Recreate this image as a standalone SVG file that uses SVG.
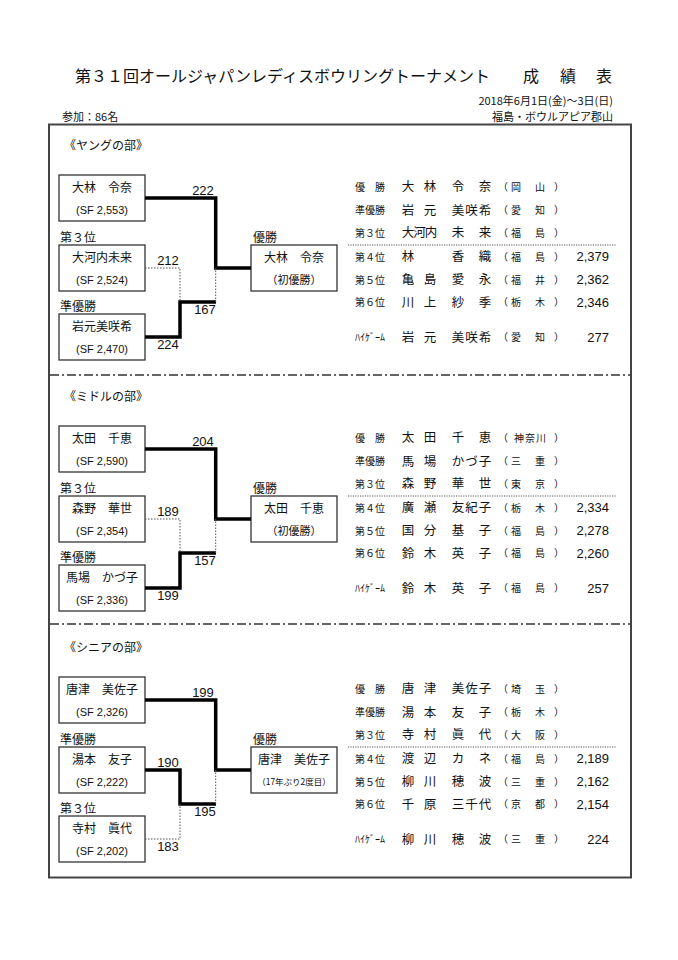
<svg xmlns="http://www.w3.org/2000/svg" width="678" height="960" viewBox="0 0 678 960">
<style>
.jp{font-family:"Noto Sans CJK JP","Noto Sans CJK SC",sans-serif;fill:#111}
.num{font-family:"Liberation Sans","DejaVu Sans",sans-serif;fill:#111}
.t{font-size:16px}
.s11{font-size:11px}
.s12{font-size:12px}
.s10{font-size:10px}
.s9{font-size:8.5px}
.nm{font-size:12.5px}
.box{fill:#fff;stroke:#333;stroke-width:1.3}
.frame{fill:none;stroke:#444;stroke-width:2}
.sep{stroke:#333;stroke-width:1.3;stroke-dasharray:9 3 2 3}
.dotl{stroke:#444;stroke-width:0.9;stroke-dasharray:1.2 1.2}
.bold{fill:none;stroke:#000;stroke-width:3.5}
.dot{fill:none;stroke:#555;stroke-width:1;stroke-dasharray:1.5 1.5}
.sc{font-size:13px}
.mid{text-anchor:middle}
.end{text-anchor:end}
</style>
<rect width="678" height="960" fill="#fff"/>
<g id="header">
<text class="jp t" x="75" y="82">第３１回オールジャパンレディスボウリングトーナメント</text>
<text class="jp t mid" x="531 568 604" y="82">成績表</text>
<text class="jp s11 end" x="613" y="105">2018年6月1日(金)～3日(日)</text>
<text class="jp s11" x="62" y="121">参加：86名</text>
<text class="jp s11 end" x="613" y="121">福島・ボウルアピア郡山</text>
</g>
<rect class="frame" x="49" y="124.5" width="582" height="753"/>
<line class="sep" x1="50" y1="375" x2="630" y2="375"/>
<line class="sep" x1="50" y1="624" x2="630" y2="624"/>

<!-- Section 1 -->
<g id="young">
<text class="jp s12" x="64" y="150">《ヤングの部》</text>
<g id="y-box1"><rect class="box" x="59" y="175" width="86" height="46"/><text class="jp s12 mid" x="102" y="191.5">大林　令奈</text><text class="num s11 mid" x="102" y="214">(SF 2,553)</text></g>
<g id="y-box2"><text class="jp s12" x="60" y="242">第３位</text><rect class="box" x="59" y="245" width="86" height="46"/><text class="jp s12 mid" x="102" y="261.5">大河内未来</text><text class="num s11 mid" x="102" y="284">(SF 2,524)</text></g>
<g id="y-box3"><text class="jp s12" x="60" y="311">準優勝</text><rect class="box" x="59" y="314" width="86" height="46"/><text class="jp s12 mid" x="102" y="330.5">岩元美咲希</text><text class="num s11 mid" x="102" y="353">(SF 2,470)</text></g>
<g id="y-win"><text class="jp s12" x="253" y="242">優勝</text><rect class="box" x="251" y="245" width="86" height="46"/><text class="jp s12 mid" x="294" y="261.5">大林　令奈</text><text class="jp s11 mid" x="294" y="284">（初優勝）</text></g>
<g id="y-conn">
<path class="bold" d="M145,198 H215.7 V268 H251"/>
<path class="dot" d="M145,268 H180 V302"/>
<path class="bold" d="M145,337 H180 V302 H216"/>
<path class="dot" d="M215.7,302 V268"/>
<text class="num sc mid" x="203" y="195">222</text>
<text class="num sc mid" x="168" y="265">212</text>
<text class="num sc mid" x="205" y="314">167</text>
<text class="num sc mid" x="168" y="349">224</text>
</g>
<g id="y-results">
<text class="jp s10" x="355" y="190.5">優　勝</text>
<text class="jp nm mid" x="408 430 458 485" y="191">大林令奈</text>
<text class="jp s10 mid" x="503 516 540 559" y="190.5">（岡山）</text>
<text class="jp s10" x="355" y="214">準優勝</text>
<text class="jp nm mid" x="408 430 458 471.5 485" y="214.5">岩元美咲希</text>
<text class="jp s10 mid" x="503 516 540 559" y="214">（愛知）</text>
<text class="jp s10" x="355" y="236.5">第３位</text>
<text class="jp nm mid" x="408 419.5 431 458 485" y="237">大河内未来</text>
<text class="jp s10 mid" x="503 516 540 559" y="236.5">（福島）</text>
<line class="dotl" x1="348" y1="245" x2="616" y2="245"/>
<text class="jp s10" x="355" y="260.5">第４位</text>
<text class="jp nm mid" x="408 458 485" y="261">林香織</text>
<text class="jp s10 mid" x="503 516 540 559" y="260.5">（福島）</text>
<text class="num sc end" x="609" y="261">2,379</text>
<text class="jp s10" x="355" y="283.5">第５位</text>
<text class="jp nm mid" x="408 430 458 485" y="284">亀島愛永</text>
<text class="jp s10 mid" x="503 516 540 559" y="283.5">（福井）</text>
<text class="num sc end" x="609" y="284">2,362</text>
<text class="jp s10" x="355" y="306">第６位</text>
<text class="jp nm mid" x="408 430 458 485" y="306.5">川上紗季</text>
<text class="jp s10 mid" x="503 516 540 559" y="306">（栃木）</text>
<text class="num sc end" x="609" y="306.5">2,346</text>
<text class="jp s10" x="355" y="341">ﾊｲｹﾞｰﾑ</text>
<text class="jp nm mid" x="408 430 458 471.5 485" y="341.5">岩元美咲希</text>
<text class="jp s10 mid" x="503 516 540 559" y="341">（愛知）</text>
<text class="num sc end" x="609" y="341.5">277</text>
</g>
</g>

<!-- Section 2 -->
<g id="middle" transform="translate(0,251)">
<text class="jp s12" x="64" y="150">《ミドルの部》</text>
<g id="m-box1"><rect class="box" x="59" y="175" width="86" height="46"/><text class="jp s12 mid" x="102" y="191.5">太田　千恵</text><text class="num s11 mid" x="102" y="214">(SF 2,590)</text></g>
<g id="m-box2"><text class="jp s12" x="60" y="242">第３位</text><rect class="box" x="59" y="245" width="86" height="46"/><text class="jp s12 mid" x="102" y="261.5">森野　華世</text><text class="num s11 mid" x="102" y="284">(SF 2,354)</text></g>
<g id="m-box3"><text class="jp s12" x="60" y="311">準優勝</text><rect class="box" x="59" y="314" width="86" height="46"/><text class="jp s12 mid" x="102" y="330.5">馬場　かづ子</text><text class="num s11 mid" x="102" y="353">(SF 2,336)</text></g>
<g id="m-win"><text class="jp s12" x="253" y="242">優勝</text><rect class="box" x="251" y="245" width="86" height="46"/><text class="jp s12 mid" x="294" y="261.5">太田　千恵</text><text class="jp s11 mid" x="294" y="284">（初優勝）</text></g>
<g id="m-conn">
<path class="bold" d="M145,198 H215.7 V268 H251"/>
<path class="dot" d="M145,268 H180 V302"/>
<path class="bold" d="M145,337 H180 V302 H216"/>
<path class="dot" d="M215.7,302 V268"/>
<text class="num sc mid" x="203" y="195">204</text>
<text class="num sc mid" x="168" y="265">189</text>
<text class="num sc mid" x="205" y="314">157</text>
<text class="num sc mid" x="168" y="349">199</text>
</g>
<g id="m-results">
<text class="jp s10" x="355" y="190.5">優　勝</text>
<text class="jp nm mid" x="408 430 458 485" y="191">太田千恵</text>
<text class="jp s10 mid" x="503 519 530 541 559" y="190.5">（神奈川）</text>
<text class="jp s10" x="355" y="214">準優勝</text>
<text class="jp nm mid" x="408 430 458 471.5 485" y="214.5">馬場かづ子</text>
<text class="jp s10 mid" x="503 516 540 559" y="214">（三重）</text>
<text class="jp s10" x="355" y="236.5">第３位</text>
<text class="jp nm mid" x="408 430 458 485" y="237">森野華世</text>
<text class="jp s10 mid" x="503 516 540 559" y="236.5">（東京）</text>
<line class="dotl" x1="348" y1="245" x2="616" y2="245"/>
<text class="jp s10" x="355" y="260.5">第４位</text>
<text class="jp nm mid" x="408 430 458 471.5 485" y="261">廣瀬友紀子</text>
<text class="jp s10 mid" x="503 516 540 559" y="260.5">（栃木）</text>
<text class="num sc end" x="609" y="261">2,334</text>
<text class="jp s10" x="355" y="283.5">第５位</text>
<text class="jp nm mid" x="408 430 458 485" y="284">国分基子</text>
<text class="jp s10 mid" x="503 516 540 559" y="283.5">（福島）</text>
<text class="num sc end" x="609" y="284">2,278</text>
<text class="jp s10" x="355" y="306">第６位</text>
<text class="jp nm mid" x="408 430 458 485" y="306.5">鈴木英子</text>
<text class="jp s10 mid" x="503 516 540 559" y="306">（福島）</text>
<text class="num sc end" x="609" y="306.5">2,260</text>
<text class="jp s10" x="355" y="341">ﾊｲｹﾞｰﾑ</text>
<text class="jp nm mid" x="408 430 458 485" y="341.5">鈴木英子</text>
<text class="jp s10 mid" x="503 516 540 559" y="341">（福島）</text>
<text class="num sc end" x="609" y="341.5">257</text>
</g>
</g>

<!-- Section 3 -->
<g id="senior" transform="translate(0,502)">
<text class="jp s12" x="64" y="150">《シニアの部》</text>
<g id="s-box1"><rect class="box" x="59" y="175" width="86" height="46"/><text class="jp s12 mid" x="102" y="191.5">唐津　美佐子</text><text class="num s11 mid" x="102" y="214">(SF 2,326)</text></g>
<g id="s-box2"><text class="jp s12" x="60" y="242">準優勝</text><rect class="box" x="59" y="245" width="86" height="46"/><text class="jp s12 mid" x="102" y="261.5">湯本　友子</text><text class="num s11 mid" x="102" y="284">(SF 2,222)</text></g>
<g id="s-box3"><text class="jp s12" x="60" y="311">第３位</text><rect class="box" x="59" y="314" width="86" height="46"/><text class="jp s12 mid" x="102" y="330.5">寺村　眞代</text><text class="num s11 mid" x="102" y="353">(SF 2,202)</text></g>
<g id="s-win"><text class="jp s12" x="253" y="242">優勝</text><rect class="box" x="251" y="245" width="86" height="46"/><text class="jp s12 mid" x="294" y="261.5">唐津　美佐子</text><text class="jp s9 mid" x="294" y="283">（17年ぶり2度目）</text></g>
<g id="s-conn">
<path class="bold" d="M145,198 H215.7 V268 H251"/>
<path class="bold" d="M145,268 H180 V302 H216"/>
<path class="dot" d="M145,337 H180 V302"/>
<path class="dot" d="M215.7,302 V268"/>
<text class="num sc mid" x="203" y="195">199</text>
<text class="num sc mid" x="168" y="265">190</text>
<text class="num sc mid" x="205" y="314">195</text>
<text class="num sc mid" x="168" y="349">183</text>
</g>
<g id="s-results">
<text class="jp s10" x="355" y="190.5">優　勝</text>
<text class="jp nm mid" x="408 430 458 471.5 485" y="191">唐津美佐子</text>
<text class="jp s10 mid" x="503 516 540 559" y="190.5">（埼玉）</text>
<text class="jp s10" x="355" y="214">準優勝</text>
<text class="jp nm mid" x="408 430 458 485" y="214.5">湯本友子</text>
<text class="jp s10 mid" x="503 516 540 559" y="214">（栃木）</text>
<text class="jp s10" x="355" y="236.5">第３位</text>
<text class="jp nm mid" x="408 430 458 485" y="237">寺村眞代</text>
<text class="jp s10 mid" x="503 516 540 559" y="236.5">（大阪）</text>
<line class="dotl" x1="348" y1="245" x2="616" y2="245"/>
<text class="jp s10" x="355" y="260.5">第４位</text>
<text class="jp nm mid" x="408 430 458 485" y="261">渡辺カネ</text>
<text class="jp s10 mid" x="503 516 540 559" y="260.5">（福島）</text>
<text class="num sc end" x="609" y="261">2,189</text>
<text class="jp s10" x="355" y="283.5">第５位</text>
<text class="jp nm mid" x="408 430 458 485" y="284">柳川穂波</text>
<text class="jp s10 mid" x="503 516 540 559" y="283.5">（三重）</text>
<text class="num sc end" x="609" y="284">2,162</text>
<text class="jp s10" x="355" y="306">第６位</text>
<text class="jp nm mid" x="408 430 458 471.5 485" y="306.5">千原三千代</text>
<text class="jp s10 mid" x="503 516 540 559" y="306">（京都）</text>
<text class="num sc end" x="609" y="306.5">2,154</text>
<text class="jp s10" x="355" y="341">ﾊｲｹﾞｰﾑ</text>
<text class="jp nm mid" x="408 430 458 485" y="341.5">柳川穂波</text>
<text class="jp s10 mid" x="503 516 540 559" y="341">（三重）</text>
<text class="num sc end" x="609" y="341.5">224</text>
</g>
</g>
</svg>
